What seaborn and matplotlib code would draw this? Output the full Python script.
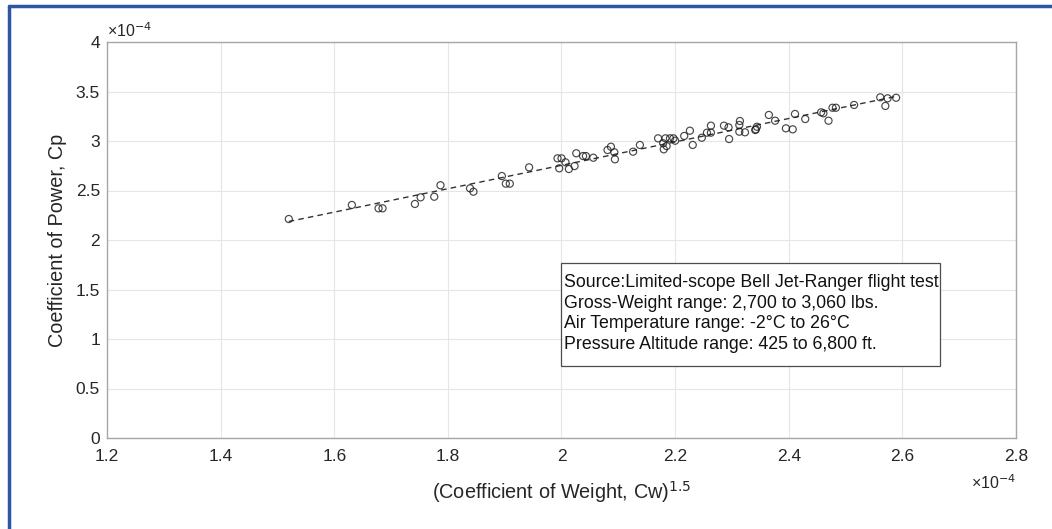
import numpy as np
import matplotlib
matplotlib.use("Agg")
import matplotlib.pyplot as plt
from matplotlib.patches import Rectangle
import seaborn as sns

# Flight-test points, both coefficients in units of 1e-4
cw15 = [1.520, 1.631, 1.678, 1.685, 1.742, 1.752, 1.776, 1.787, 1.839, 1.845,
        1.895, 1.902, 1.909, 1.943, 1.993, 2.000, 1.996, 2.007, 2.013, 2.023,
        2.026, 2.038, 2.043, 2.056, 2.081, 2.087, 2.093, 2.094, 2.126, 2.138,
        2.170, 2.179, 2.180, 2.185, 2.183, 2.191, 2.197, 2.200, 2.216, 2.226,
        2.231, 2.247, 2.256, 2.263, 2.263, 2.286, 2.294, 2.295, 2.313, 2.314,
        2.313, 2.323, 2.341, 2.344, 2.342, 2.365, 2.376, 2.395, 2.407, 2.411,
        2.429, 2.457, 2.461, 2.470, 2.477, 2.483, 2.515, 2.561, 2.574, 2.570,
        2.589]
cp = [2.212, 2.354, 2.320, 2.320, 2.364, 2.431, 2.437, 2.553, 2.522, 2.488,
      2.646, 2.569, 2.569, 2.734, 2.825, 2.825, 2.724, 2.785, 2.717, 2.747,
      2.876, 2.848, 2.848, 2.831, 2.909, 2.942, 2.886, 2.815, 2.892, 2.960,
      3.027, 2.977, 2.916, 2.949, 3.027, 3.027, 3.027, 3.003, 3.051, 3.104,
      2.960, 3.033, 3.084, 3.084, 3.155, 3.155, 3.138, 3.020, 3.162, 3.202,
      3.094, 3.088, 3.111, 3.144, 3.118, 3.263, 3.205, 3.128, 3.118, 3.273,
      3.222, 3.290, 3.280, 3.205, 3.336, 3.336, 3.364, 3.441, 3.431, 3.354,
      3.437]

x_ticks = [1.2, 1.4, 1.6, 1.8, 2.0, 2.2, 2.4, 2.6, 2.8]
x_tick_labels = ["1.2", "1.4", "1.6", "1.8", "2", "2.2", "2.4", "2.6", "2.8"]
y_ticks = [0, 0.5, 1, 1.5, 2, 2.5, 3, 3.5, 4]
y_tick_labels = ["0", "0.5", "1", "1.5", "2", "2.5", "3", "3.5", "4"]

note_lines = [
    "Source:Limited-scope Bell Jet-Ranger flight test",
    "Gross-Weight range: 2,700 to 3,060 lbs.",
    "Air Temperature range: -2°C to 26°C",
    "Pressure Altitude range: 425 to 6,800 ft.",
]

sns.set_style("white")
plt.rcParams["font.family"] = ["Liberation Sans", "DejaVu Sans"]

fig = plt.figure(figsize=(10.52, 5.29), dpi=100)
ax = fig.add_axes([107 / 1052, 1 - 438 / 529, 909 / 1052, 396 / 529])

sns.regplot(
    x=np.array(cw15), y=np.array(cp), ax=ax, ci=None, marker="o",
    scatter_kws=dict(facecolors="none", edgecolors="#1a1a1a", s=26, linewidths=0.85, zorder=3),
    line_kws=dict(color="#333333", ls=(0, (4, 3)), lw=1.0, zorder=2),
)

ax.set_xlim(1.2, 2.8)
ax.set_ylim(0, 4)
ax.set_xticks(x_ticks)
ax.set_xticklabels(x_tick_labels)
ax.set_yticks(y_ticks)
ax.set_yticklabels(y_tick_labels)
ax.grid(True, color="#e6e6e6", lw=0.8)
ax.set_axisbelow(True)
for s in ax.spines.values():
    s.set_color("#a6a6a6")
    s.set_linewidth(1.0)
    s.set_visible(True)
ax.tick_params(direction="in", length=5, width=0.8, color="#a6a6a6",
               labelsize=12.5, labelcolor="#262626", pad=5,
               top=False, right=False)
ax.tick_params(axis="x", pad=8)

ax.set_xlabel("(Coefficient of Weight, Cw)$^{1.5}$", fontsize=14.3, color="#262626", labelpad=11)
ax.set_ylabel("Coefficient of Power, Cp", fontsize=14.3, color="#262626", labelpad=6)

# exponent labels for both axes
ax.text(0.0, 1.004, "×10$^{-4}$", transform=ax.transAxes, fontsize=11.5,
        color="#262626", ha="left", va="bottom")
ax.text(1.0, -0.09, "×10$^{-4}$", transform=ax.transAxes, fontsize=11.5,
        color="#262626", ha="right", va="top")

# annotation box with the test conditions
ax.add_patch(Rectangle((0.4994, 0.1818), 0.417, 0.260, transform=ax.transAxes,
                       fc="white", ec="#4d4d4d", lw=0.9, zorder=4))
ax.text(0.5028, 0.3145, "\n".join(note_lines), transform=ax.transAxes,
        fontsize=12.8, color="#111111", ha="left", va="center", linespacing=1.28,
        zorder=5)

# frame accents along the top and left edges
fig.add_artist(plt.Line2D([9 / 1052, 1], [1 - 6 / 529, 1 - 6 / 529], color="#2f56a3", lw=2.5))
fig.add_artist(plt.Line2D([9 / 1052, 9 / 1052], [0, 1 - 6 / 529], color="#2f56a3", lw=2.5))

fig.savefig("out.png", dpi=100)
